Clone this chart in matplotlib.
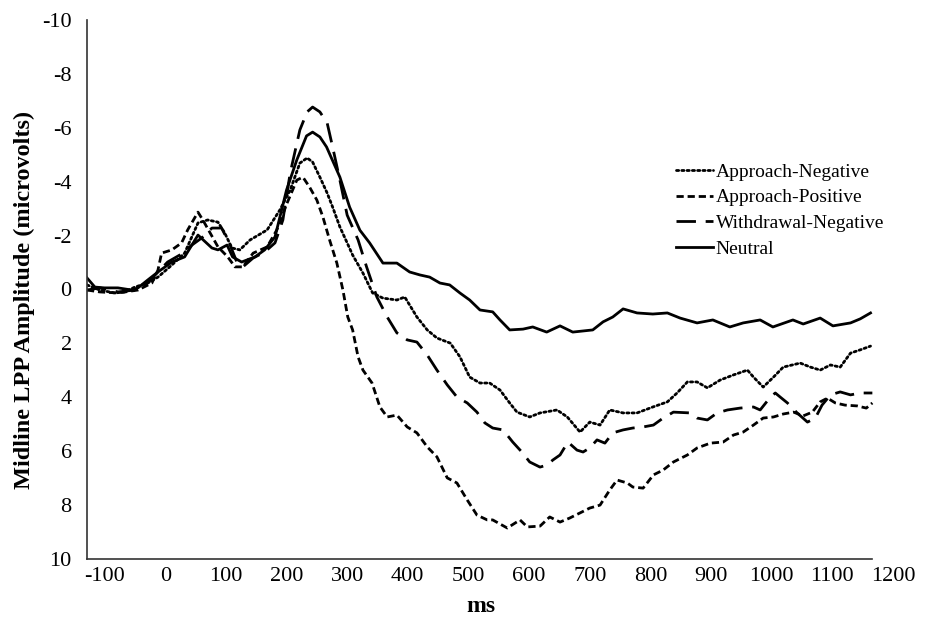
import matplotlib
matplotlib.use("Agg")
import matplotlib.pyplot as plt

# ---------------- data (ms, microvolts) ----------------
neutral_t = [-129, -116, -100, -78, -55, -45, -29, -12, 11, 32, 54, 77, 87, 102, 111, 126, 148, 164,
             181, 200, 217, 233, 243, 255, 266, 288, 304, 321, 337, 359, 382, 403, 420, 436, 453, 469,
             486, 502, 519, 540, 552, 568, 590, 606, 629, 651, 672, 705, 722, 738, 755, 778, 804, 828,
             849, 877, 903, 931, 953, 981, 1002, 1035, 1052, 1080, 1101, 1130, 1146, 1163]
neutral_v = [-0.43, -0.09, -0.06, -0.06, 0.02, -0.06, -0.35, -0.65, -1.02, -1.21, -2.02, -1.54, -1.47,
             -1.65, -1.21, -1.02, -1.21, -1.47, -1.95, -3.69, -4.81, -5.70, -5.84, -5.66, -5.29, -4.17,
             -3.06, -2.2, -1.73, -0.98, -0.98, -0.65, -0.54, -0.46, -0.24, -0.17, 0.13, 0.39, 0.76,
             0.83, 1.13, 1.5, 1.47, 1.39, 1.58, 1.35, 1.58, 1.5, 1.2, 1.02, 0.72, 0.87, 0.91, 0.87,
             1.06, 1.24, 1.13, 1.39, 1.24, 1.13, 1.39, 1.13, 1.28, 1.06, 1.35, 1.24, 1.09, 0.87]

appneg_t = [-129, -108, -83, -67, -50, -29, -12, 11, 32, 54, 70, 87, 98, 110, 123, 140, 168, 189, 206,
            222, 234, 243, 255, 267, 276, 288, 300, 309, 326, 342, 359, 382, 395, 415, 432, 448, 470,
            486, 502, 519, 535, 552, 568, 580, 601, 618, 646, 663, 684, 700, 717, 733, 755, 778, 804,
            828, 844, 861, 877, 894, 915, 937, 960, 970, 986, 1003, 1019, 1047, 1064, 1080, 1097,
            1113, 1130, 1146, 1163]
appneg_v = [-0.17, 0.02, 0.13, 0.09, -0.09, -0.24, -0.46, -0.91, -1.35, -2.47, -2.58, -2.5, -2.1,
            -1.54, -1.47, -1.84, -2.21, -2.95, -3.69, -4.69, -4.88, -4.73, -4.17, -3.58, -3.06, -2.32,
            -1.73, -1.28, -0.61, 0.13, 0.32, 0.39, 0.28, 1.02, 1.5, 1.8, 1.99, 2.5, 3.25, 3.47, 3.47,
            3.73, 4.21, 4.55, 4.73, 4.58, 4.47, 4.73, 5.29, 4.92, 5.03, 4.47, 4.58, 4.58, 4.36, 4.17,
            3.84, 3.43, 3.43, 3.65, 3.36, 3.17, 2.99, 3.25, 3.62, 3.25, 2.88, 2.73, 2.88, 2.99, 2.8,
            2.88, 2.36, 2.24, 2.1]

apppos_t = [-129, -108, -78, -45, -22, -12, -6, 11, 27, 37, 54, 62, 74, 87, 103, 115, 128, 145, 168,
            184, 201, 217, 227, 238, 250, 260, 271, 283, 293, 301, 309, 318, 326, 341, 354, 366, 382,
            399, 415, 432, 448, 465, 481, 498, 514, 531, 540, 564, 585, 597, 618, 634, 651, 667, 684,
            700, 717, 733, 745, 762, 771, 788, 805, 821, 838, 861, 877, 899, 920, 937, 953, 970, 986,
            1003, 1019, 1036, 1052, 1067, 1080, 1092, 1105, 1121, 1141, 1156, 1166]
apppos_v = [0.02, 0.09, 0.13, 0.02, -0.24, -0.72, -1.35, -1.47, -1.73, -2.21, -2.87, -2.58, -2.1,
            -1.58, -1.21, -0.84, -0.84, -1.35, -1.58, -2.21, -3.21, -4.06, -4.17, -3.8, -3.32, -2.69,
            -1.84, -0.98, 0.02, 1.02, 1.5, 2.5, 2.99, 3.47, 4.36, 4.73, 4.66, 5.1, 5.32, 5.84, 6.21,
            6.99, 7.18, 7.81, 8.37, 8.55, 8.55, 8.85, 8.55, 8.81, 8.78, 8.44, 8.63, 8.48, 8.29, 8.11,
            8.0, 7.44, 7.07, 7.18, 7.33, 7.37, 6.88, 6.7, 6.4, 6.14, 5.88, 5.7, 5.66, 5.4, 5.29, 5.03,
            4.77, 4.73, 4.62, 4.55, 4.69, 4.55, 4.17, 4.03, 4.21, 4.29, 4.32, 4.4, 4.21]

withneg_t = [-129, -108, -78, -50, -29, -12, 4, 24, 44, 60, 77, 93, 107, 118, 128, 145, 164, 181, 194,
             206, 222, 234, 243, 255, 267, 276, 288, 300, 318, 332, 349, 366, 382, 399, 415, 432, 448,
             465, 481, 498, 514, 527, 540, 557, 573, 588, 601, 618, 630, 639, 651, 664, 679, 689, 700,
             712, 725, 738, 755, 771, 788, 805, 821, 838, 866, 877, 894, 910, 927, 948, 970, 981, 998,
             1006, 1014, 1026, 1042, 1059, 1072, 1083, 1097, 1113, 1130, 1146, 1166]
withneg_v = [0.02, -0.06, 0.09, 0.02, -0.24, -0.65, -1.02, -1.28, -1.65, -1.91, -2.28, -2.28, -1.65,
             -1.02, -0.84, -1.17, -1.39, -1.73, -2.58, -4.32, -5.92, -6.59, -6.77, -6.59, -6.18,
             -5.29, -4.06, -2.76, -1.84, -0.84, 0.28, 1.02, 1.61, 1.87, 1.95, 2.43, 2.99, 3.54, 3.99,
             4.21, 4.55, 4.95, 5.14, 5.21, 5.66, 6.03, 6.4, 6.59, 6.51, 6.33, 6.14, 5.66, 5.96, 6.03,
             5.88, 5.58, 5.7, 5.32, 5.21, 5.14, 5.1, 5.03, 4.77, 4.55, 4.58, 4.77, 4.84, 4.58, 4.47,
             4.4, 4.36, 4.47, 3.99, 3.84, 3.99, 4.21, 4.58, 4.92, 4.77, 4.29, 3.91, 3.8, 3.91, 3.84,
             3.84]

x_tick_values = [-100, 0, 100, 200, 300, 400, 500, 600, 700, 800, 900, 1000, 1100, 1200]
y_tick_values = [-10, -8, -6, -4, -2, 0, 2, 4, 6, 8, 10]
series_labels = ["Approach-Negative", "Approach-Positive", "Withdrawal-Negative", "Neutral"]

# ---------------- figure ----------------
plt.rcParams['font.family'] = ['Liberation Serif', 'DejaVu Serif']
fig = plt.figure(figsize=(9.35, 6.2), dpi=100)
ax = fig.add_axes([87 / 935, 1 - 559 / 620, (896 - 87) / 935, (559 - 20) / 620])

lw = 2.0
ax.plot(appneg_t, appneg_v, color='black', lw=lw, linestyle=(0, (0.8, 1.1)),
        dash_capstyle='round', label=series_labels[0])
ax.plot(apppos_t, apppos_v, color='black', lw=lw, linestyle=(0, (2.6, 1.4)),
        label=series_labels[1])
ax.plot(withneg_t, withneg_v, color='black', lw=lw, linestyle=(0, (7, 3.5)),
        label=series_labels[2])
ax.plot(neutral_t, neutral_v, color='black', lw=lw, linestyle='-',
        label=series_labels[3])

ax.set_xlim(-129, 1205)
ax.set_ylim(10, -10)
ax.set_xticks(x_tick_values)
ax.set_xticklabels([str(v) for v in x_tick_values])
ax.set_yticks(y_tick_values)
ax.set_yticklabels([str(v) for v in y_tick_values])
ax.tick_params(axis='both', length=0, labelsize=16)
ax.tick_params(axis='y', pad=11)
ax.tick_params(axis='x', pad=6)

for s in ['top', 'right']:
    ax.spines[s].set_visible(False)
ax.spines['bottom'].set_bounds(-129, 1166)
for s in ['left', 'bottom']:
    ax.spines[s].set_color('#333333')
    ax.spines[s].set_linewidth(1.2)

ax.set_ylabel("Midline LPP Amplitude (microvolts)", fontsize=17.5, fontweight='bold')
ax.yaxis.set_label_coords(-(87 - 24) / (896 - 87), 0.48)
ax.set_xlabel("ms", fontsize=17, fontweight='bold')
ax.xaxis.set_label_coords((481 - 87) / (896 - 87), -(606 - 559) / 539)
ax.xaxis.label.set_va('center')
ax.yaxis.label.set_va('center')

leg = ax.legend(loc='upper left', bbox_to_anchor=((676 - 87) / (896 - 87), 1 - (163 - 20) / 539),
                frameon=False, fontsize=14, handlelength=1.9, handletextpad=0.15,
                labelspacing=0.42, borderpad=0, borderaxespad=0)

fig.savefig("out.png", dpi=100)
